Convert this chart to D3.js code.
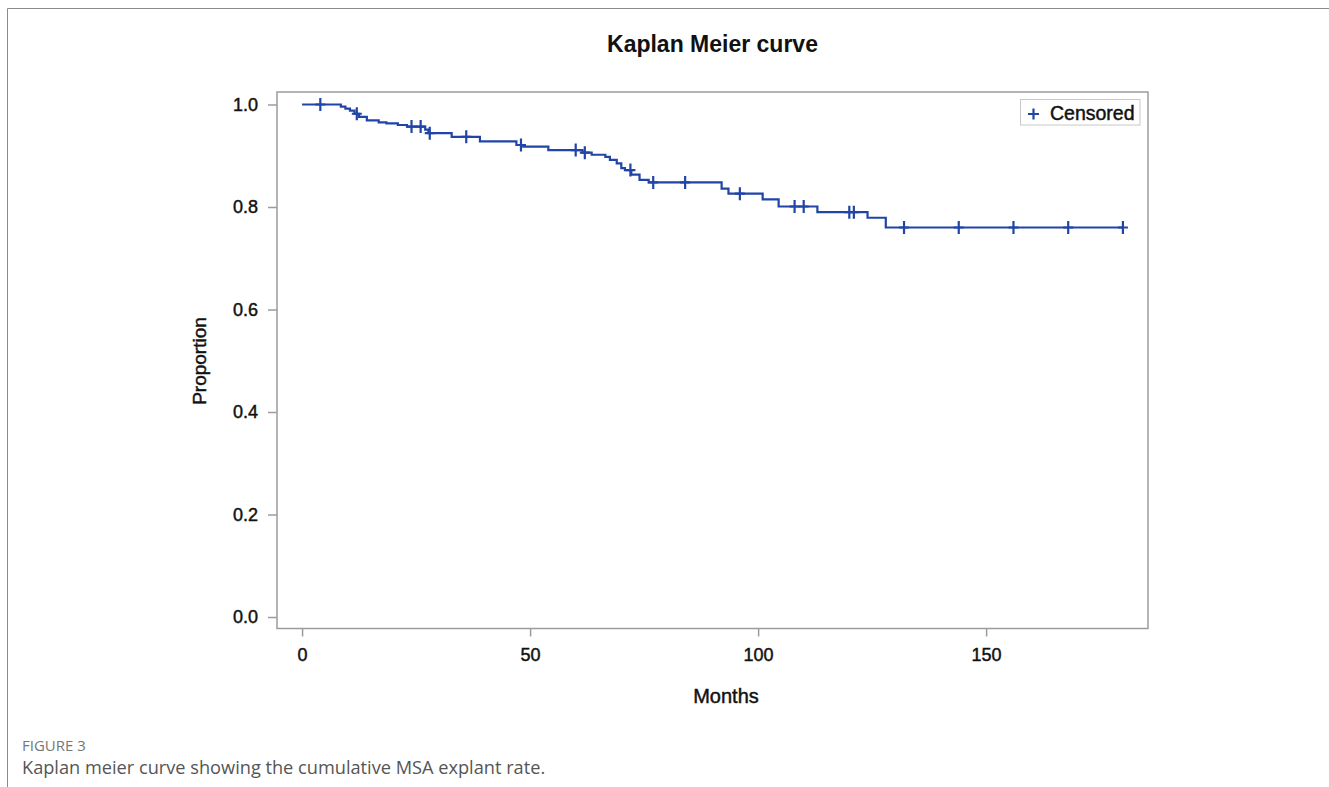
<!DOCTYPE html>
<html>
<head>
<meta charset="utf-8">
<script src="https://cdn.jsdelivr.net/npm/d3@7"></script>
<style>
  html, body { margin: 0; padding: 0; background: #fff; }
  svg { display: block; }
</style>
</head>
<body>
<svg id="chart" width="1329" height="787"></svg>
<script>
// Kaplan-Meier step points (months, proportion)
const eventTimes = [8.5, 9.5, 10.5, 11.5, 12.5, 14.2, 16.8, 18.5, 21, 23, 27, 27.7, 32.8, 39,
  47, 48.5, 54, 61.5, 63.5, 66.5, 67.5, 69, 70, 70.8, 72.2, 74, 76, 92, 93.5, 101, 104.5,
  113, 124, 128];
const survival = [0.996, 0.992, 0.988, 0.982, 0.976, 0.969, 0.965, 0.963, 0.960, 0.957, 0.951,
  0.944, 0.937, 0.928, 0.921, 0.918, 0.911, 0.906, 0.902, 0.898, 0.892, 0.885, 0.876, 0.872,
  0.863, 0.853, 0.848, 0.836, 0.826, 0.815, 0.801, 0.790, 0.779, 0.760];
const censorTimes = [4, 12, 24, 26, 28, 36, 48, 60, 62, 72, 77, 84, 96, 108, 110, 120, 121,
  132, 144, 156, 168, 180];
const xTicks = [0, 50, 100, 150];
const yTicks = [0, 0.2, 0.4, 0.6, 0.8, 1.0];
const lastTime = 180;

const svg = d3.select("#chart");
const blue = "#2145a6";
const gray = "#9c9c9c";
const font = "'Liberation Sans', Arial, sans-serif";
const ink = "#111";

// page frame (left + top rule of the figure box)
svg.append("path")
  .attr("d", "M7.5,787V8.5H1329")
  .attr("fill", "none")
  .attr("stroke", "#8a8a8a")
  .attr("stroke-width", 1);

// plot area
const plot = { left: 277, right: 1148, top: 92, bottom: 628.5 };

const x = d3.scaleLinear().domain([-5.5, 185.5]).range([plot.left, plot.right]);
const y = d3.scaleLinear().domain([-0.0224, 1.0244]).range([plot.bottom, plot.top]);

// slightly heavier text like the original raster
const heavy = (sel) => sel.attr("stroke", ink).attr("stroke-width", 0.45).attr("paint-order", "stroke");

// title
svg.append("text")
  .attr("x", (plot.left + plot.right) / 2)
  .attr("y", 51.5)
  .attr("text-anchor", "middle")
  .attr("font-family", font)
  .attr("font-weight", "bold")
  .attr("font-size", 23)
  .attr("fill", ink)
  .text("Kaplan Meier curve");

// x axis
const gx = svg.append("g")
  .attr("transform", `translate(0,${plot.bottom})`)
  .call(d3.axisBottom(x).tickValues(xTicks).tickSize(8).tickPadding(12).tickFormat(d3.format("d")));
gx.select(".domain").remove();
gx.selectAll(".tick line").attr("stroke", gray).attr("stroke-width", 1.5);
gx.selectAll(".tick text")
  .attr("font-family", font).attr("font-size", 18).attr("fill", ink).call(heavy);

// y axis
const gy = svg.append("g")
  .attr("transform", `translate(${plot.left},0)`)
  .call(d3.axisLeft(y).tickValues(yTicks).tickSize(9).tickPadding(10).tickFormat(d3.format(".1f")));
gy.select(".domain").remove();
gy.selectAll(".tick line").attr("stroke", gray).attr("stroke-width", 1.5);
gy.selectAll(".tick text")
  .attr("font-family", font).attr("font-size", 18).attr("fill", ink).call(heavy);

// plot frame
svg.append("rect")
  .attr("x", plot.left)
  .attr("y", plot.top)
  .attr("width", plot.right - plot.left)
  .attr("height", plot.bottom - plot.top)
  .attr("fill", "none")
  .attr("stroke", gray)
  .attr("stroke-width", 1.5);

// axis labels
svg.append("text")
  .attr("x", 726)
  .attr("y", 703)
  .attr("text-anchor", "middle")
  .attr("font-family", font)
  .attr("font-size", 20)
  .attr("fill", ink)
  .call(heavy)
  .text("Months");

svg.append("text")
  .attr("transform", "translate(206,361) rotate(-90)")
  .attr("text-anchor", "middle")
  .attr("font-family", font)
  .attr("font-size", 19)
  .attr("fill", ink)
  .call(heavy)
  .text("Proportion");

// survival curve
const pts = [[0, 1]].concat(eventTimes.map((t, i) => [t, survival[i]]));
pts.push([lastTime, survival[survival.length - 1]]);

const line = d3.line()
  .x((d) => x(d[0]))
  .y((d) => y(d[1]))
  .curve(d3.curveStepAfter);

svg.append("path")
  .datum(pts)
  .attr("d", line)
  .attr("fill", "none")
  .attr("stroke", blue)
  .attr("stroke-width", 2.2);

// censor marks
const survAt = (t) => {
  let s = 1;
  eventTimes.forEach((e, i) => { if (e <= t) s = survival[i]; });
  return s;
};

const marks = svg.append("g").attr("stroke", blue).attr("stroke-width", 2.2);
censorTimes.forEach((t) => {
  const cx = x(t), cy = y(survAt(t));
  marks.append("path").attr("d", `M${cx - 5},${cy}H${cx + 5}M${cx},${cy - 6.5}V${cy + 6.5}`);
});

// legend
const lg = svg.append("g");
lg.append("rect")
  .attr("x", 1020.5).attr("y", 99.5).attr("width", 119.5).attr("height", 25.5)
  .attr("fill", "#fff").attr("stroke", "#c8c8c8").attr("stroke-width", 1);
lg.append("path")
  .attr("d", "M1028,114H1039M1033.5,108.5V119.5")
  .attr("stroke", blue).attr("stroke-width", 2.2);
lg.append("text")
  .attr("x", 1050).attr("y", 119.5)
  .attr("font-family", font).attr("font-size", 19.5).attr("fill", ink)
  .call(heavy)
  .text("Censored");

// caption
svg.append("text")
  .attr("x", 22).attr("y", 751)
  .attr("font-family", "'Open Sans', sans-serif").attr("font-size", 15)
  .attr("fill", "#777")
  .text("FIGURE 3");
svg.append("text")
  .attr("x", 22).attr("y", 774)
  .attr("font-family", "'Open Sans', sans-serif").attr("font-size", 18.2)
  .attr("fill", "#555")
  .text("Kaplan meier curve showing the cumulative MSA explant rate.");
</script>
</body>
</html>
